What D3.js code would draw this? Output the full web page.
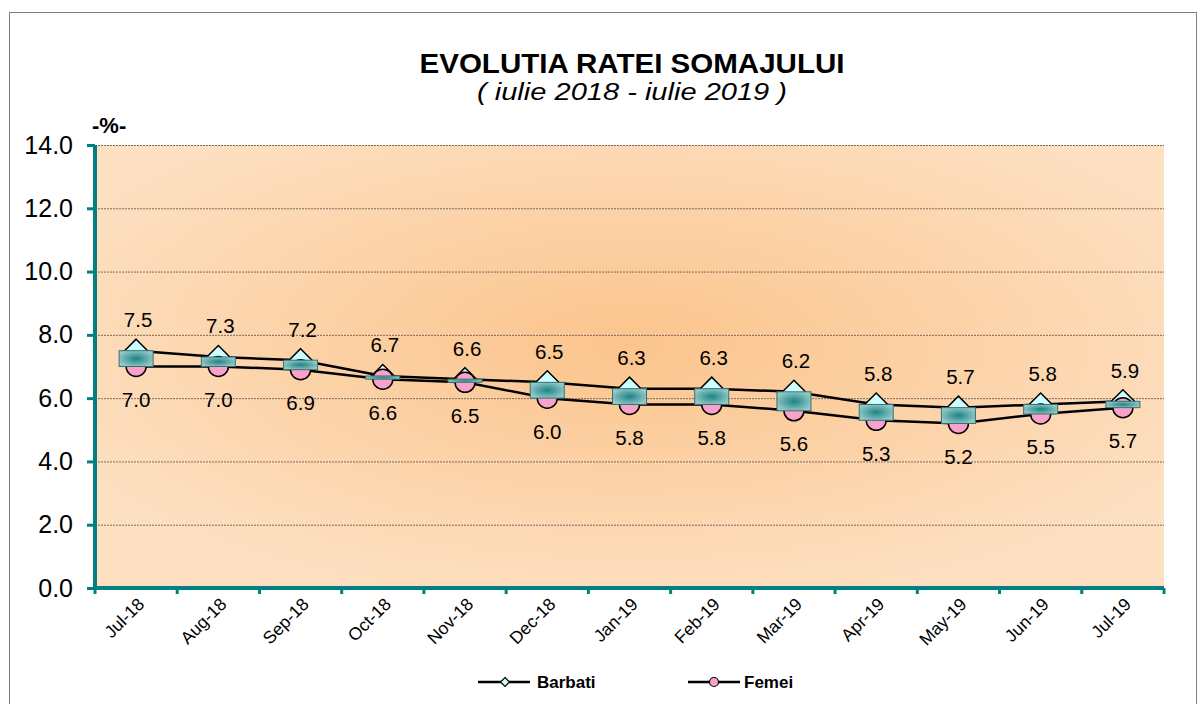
<!DOCTYPE html>
<html>
<head>
<meta charset="utf-8">
<script src="https://cdn.jsdelivr.net/npm/d3@7/dist/d3.min.js"></script>
<style>
  html, body { margin: 0; padding: 0; background: #fff; }
  svg { display: block; font-family: "Liberation Sans", Arial, sans-serif; }
</style>
</head>
<body>
<svg id="chart" width="1204" height="704"></svg>
<script>
/* ============================
   DATA
============================ */
const months = ["Jul-18", "Aug-18", "Sep-18", "Oct-18", "Nov-18", "Dec-18", "Jan-19",
                "Feb-19", "Mar-19", "Apr-19", "May-19", "Jun-19", "Jul-19"];
const barbati = [7.5, 7.3, 7.2, 6.7, 6.6, 6.5, 6.3, 6.3, 6.2, 5.8, 5.7, 5.8, 5.9];
const femei   = [7.0, 7.0, 6.9, 6.6, 6.5, 6.0, 5.8, 5.8, 5.6, 5.3, 5.2, 5.5, 5.7];
const yTicks  = [0, 2, 4, 6, 8, 10, 12, 14];

/* ============================
   LAYOUT
============================ */
const plot = { left: 95, right: 1164, top: 145, bottom: 588 };
const TEAL = "#008080";

const svg = d3.select("#chart");

const x = d3.scaleBand().domain(months).range([plot.left, plot.right]).padding(0);
const y = d3.scaleLinear().domain([0, 14]).range([plot.bottom, plot.top]);
const cx = m => x(m) + x.bandwidth() / 2;

// gradients
const defs = svg.append("defs");
const bg = defs.append("radialGradient").attr("id", "bgGrad")
  .attr("cx", "50%").attr("cy", "45%").attr("r", "60%");
bg.append("stop").attr("offset", "0%").attr("stop-color", "#fbc48c");
bg.append("stop").attr("offset", "100%").attr("stop-color", "#fde0c2");

const barGrad = defs.append("radialGradient").attr("id", "barGrad")
  .attr("cx", "50%").attr("cy", "50%").attr("r", "55%");
barGrad.append("stop").attr("offset", "0%").attr("stop-color", "#1e8383");
barGrad.append("stop").attr("offset", "100%").attr("stop-color", "#94c9c9");

// chart border
svg.append("rect")
  .attr("x", 9.5).attr("y", 12.5).attr("width", 1187).attr("height", 720)
  .attr("fill", "#fff").attr("stroke", "#808080").attr("stroke-width", 1);

// plot background
svg.append("rect")
  .attr("x", plot.left).attr("y", plot.top)
  .attr("width", plot.right - plot.left).attr("height", plot.bottom - plot.top)
  .attr("fill", "url(#bgGrad)");

/* ============================
   TITLES
============================ */
svg.append("text")
  .attr("x", 632).attr("y", 73)
  .attr("text-anchor", "middle")
  .attr("font-weight", "bold").attr("font-size", 27)
  .attr("textLength", 425).attr("lengthAdjust", "spacingAndGlyphs")
  .text("EVOLUTIA RATEI SOMAJULUI");

svg.append("text")
  .attr("x", 632).attr("y", 100)
  .attr("text-anchor", "middle")
  .attr("font-style", "italic").attr("font-size", 24)
  .attr("textLength", 310).attr("lengthAdjust", "spacingAndGlyphs")
  .text("( iulie 2018 - iulie 2019 )");

svg.append("text")
  .attr("x", 92).attr("y", 133)
  .attr("font-weight", "bold").attr("font-size", 22)
  .text("-%-");

/* ============================
   GRID + AXES
============================ */
svg.append("g").selectAll("line")
  .data(yTicks.filter(d => d > 0))
  .join("line")
  .attr("x1", plot.left).attr("x2", plot.right)
  .attr("y1", d => y(d) + 0.5).attr("y2", d => y(d) + 0.5)
  .attr("stroke", "#7a6a5a").attr("stroke-width", 1)
  .attr("stroke-dasharray", "2,1");

// y axis
const yAxis = svg.append("g")
  .attr("transform", `translate(${plot.left},0)`)
  .call(d3.axisLeft(y).tickValues(yTicks).tickFormat(d3.format(".1f")).tickSize(8).tickPadding(14));
yAxis.select(".domain").remove();
yAxis.selectAll(".tick line").attr("stroke", TEAL).attr("stroke-width", 3);
yAxis.selectAll(".tick text")
  .attr("font-size", 25).attr("fill", "#000")
  .attr("font-family", "'Liberation Sans', Arial, sans-serif");

svg.append("line")
  .attr("x1", plot.left).attr("x2", plot.left)
  .attr("y1", plot.top).attr("y2", plot.bottom + 2)
  .attr("stroke", TEAL).attr("stroke-width", 4);

// x axis (ticks between categories)
const bounds = months.map(m => x(m)).concat([plot.right]);
svg.append("g").selectAll("line")
  .data(bounds)
  .join("line")
  .attr("x1", d => d).attr("x2", d => d)
  .attr("y1", plot.bottom).attr("y2", plot.bottom + 6)
  .attr("stroke", TEAL).attr("stroke-width", 3);

svg.append("line")
  .attr("x1", plot.left - 2).attr("x2", plot.right)
  .attr("y1", plot.bottom).attr("y2", plot.bottom)
  .attr("stroke", TEAL).attr("stroke-width", 4);

svg.append("g").selectAll("text")
  .data(months)
  .join("text")
  .attr("transform", m => `translate(${cx(m) + 6},${plot.bottom + 14}) rotate(-45)`)
  .attr("text-anchor", "end")
  .attr("dominant-baseline", "middle")
  .attr("font-size", 17.5)
  .text(m => m);

/* ============================
   SERIES
============================ */
const line = vals => d3.line().x((d, i) => cx(months[i])).y(d => y(d))(vals);

svg.append("path").attr("d", line(barbati))
  .attr("fill", "none").attr("stroke", "#000").attr("stroke-width", 2.5);
svg.append("path").attr("d", line(femei))
  .attr("fill", "none").attr("stroke", "#000").attr("stroke-width", 2.5);

const diamond = (px, py, s) => `M${px},${py - s}L${px + s},${py}L${px},${py + s}L${px - s},${py}Z`;

svg.append("g").selectAll("path")
  .data(barbati)
  .join("path")
  .attr("d", (d, i) => diamond(cx(months[i]), y(d), 11.5))
  .attr("fill", "#ccffff").attr("stroke", "#000").attr("stroke-width", 1.5);

svg.append("g").selectAll("circle")
  .data(femei)
  .join("circle")
  .attr("cx", (d, i) => cx(months[i])).attr("cy", d => y(d)).attr("r", 10)
  .attr("fill", "#f7a1cb").attr("stroke", "#000").attr("stroke-width", 1.5);

// up/down bars
const barW = 34;
svg.append("g").selectAll("rect")
  .data(months)
  .join("rect")
  .attr("x", m => cx(m) - barW / 2)
  .attr("y", (m, i) => y(barbati[i]))
  .attr("width", barW)
  .attr("height", (m, i) => y(femei[i]) - y(barbati[i]))
  .attr("fill", "url(#barGrad)")
  .attr("stroke", "#3b6f6f").attr("stroke-width", 1);

// data labels
svg.append("g").selectAll("text")
  .data(barbati)
  .join("text")
  .attr("x", (d, i) => cx(months[i]) + 2)
  .attr("y", d => y(d) - 29)
  .attr("text-anchor", "middle").attr("dominant-baseline", "middle")
  .attr("font-size", 20.5)
  .text(d => d.toFixed(1));

svg.append("g").selectAll("text")
  .data(femei)
  .join("text")
  .attr("x", (d, i) => cx(months[i]))
  .attr("y", d => y(d) + 35)
  .attr("text-anchor", "middle").attr("dominant-baseline", "middle")
  .attr("font-size", 20.5)
  .text(d => d.toFixed(1));

/* ============================
   LEGEND
============================ */
const legend = svg.append("g");
legend.append("line").attr("x1", 478).attr("x2", 530).attr("y1", 682).attr("y2", 682)
  .attr("stroke", "#000").attr("stroke-width", 2.5);
legend.append("path").attr("d", diamond(505, 682, 4.5))
  .attr("fill", "#ccffff").attr("stroke", "#000").attr("stroke-width", 1.2);
legend.append("text").attr("x", 537).attr("y", 688)
  .attr("font-weight", "bold").attr("font-size", 17).text("Barbati");

legend.append("line").attr("x1", 688).attr("x2", 740).attr("y1", 682).attr("y2", 682)
  .attr("stroke", "#000").attr("stroke-width", 2.5);
legend.append("circle").attr("cx", 714).attr("cy", 682).attr("r", 4.5)
  .attr("fill", "#f7a1cb").attr("stroke", "#000").attr("stroke-width", 1.2);
legend.append("text").attr("x", 744).attr("y", 688)
  .attr("font-weight", "bold").attr("font-size", 17).text("Femei");
</script>
</body>
</html>
